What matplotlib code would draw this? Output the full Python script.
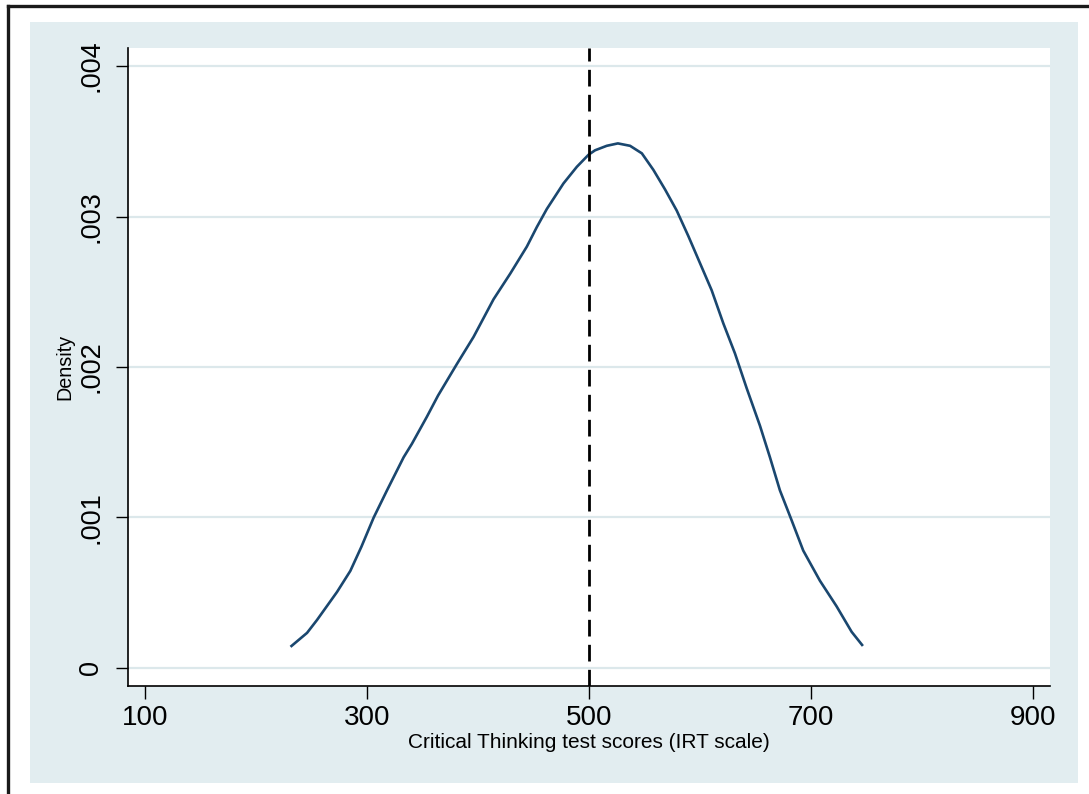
import numpy as np
import matplotlib.pyplot as plt
from matplotlib.lines import Line2D
from matplotlib.patches import Rectangle

plt.rcParams['font.family'] = ['Liberation Sans', 'DejaVu Sans']

# kernel density of the test scores
scores = [232, 246, 255, 273, 285, 295, 306, 318, 333, 340.5, 354, 364, 381,
          396, 414, 429, 444, 453, 462, 477, 489, 499.5, 505.4, 516, 526, 537,
          547.6, 558, 568.5, 579, 589.5, 600, 610.5, 621, 631.5, 642, 654, 663,
          672, 682.6, 693, 708, 723, 736.6, 746]
density = [0.000146, 0.000233, 0.000319, 0.000505, 0.000645, 0.000806, 0.000999,
           0.00118, 0.00140, 0.00149, 0.00167, 0.00181, 0.00202, 0.00220, 0.00245,
           0.00262, 0.00280, 0.00293, 0.00305, 0.00322, 0.00333, 0.00341, 0.00344,
           0.00347, 0.003486, 0.00347, 0.00342, 0.00331, 0.00318, 0.00304, 0.00287,
           0.00269, 0.00251, 0.00229, 0.00209, 0.00186, 0.00161, 0.00140, 0.00118,
           0.00098, 0.00078, 0.00058, 0.00041, 0.00024, 0.000153]
mean_line = 500

x_ticks = [100, 300, 500, 700, 900]
y_ticks = [0, 0.001, 0.002, 0.003, 0.004]
y_labels = ['0', '.001', '.002', '.003', '.004']

bg = '#e2edf0'
navy = '#1a476f'

fig = plt.figure(figsize=(10.89, 7.94), dpi=100)

# graph region + frame lines
fig.add_artist(Rectangle((30 / 1089, 1 - 783 / 794), 1048 / 1089, 761 / 794,
                         transform=fig.transFigure, facecolor=bg, edgecolor='none', zorder=0))
fig.add_artist(Line2D([8 / 1089, 1], [1 - 6 / 794, 1 - 6 / 794], transform=fig.transFigure,
                      color='#1a1a1a', lw=2.4))
fig.add_artist(Line2D([8 / 1089, 8 / 1089], [0, 1 - 6 / 794], transform=fig.transFigure,
                      color='#1a1a1a', lw=2.4))

ax = fig.add_axes([128 / 1089, 1 - 686 / 794, 922 / 1089, 638 / 794])
ax.set_facecolor('white')
ax.set_xlim(84.7, 915.3)
ax.set_ylim(-0.00012, 0.00412)

for yt in y_ticks:
    ax.axhline(yt, color='#dce8eb', lw=1.6, zorder=1)

ax.plot(scores, density, color=navy, lw=1.9, zorder=3)
ax.axvline(mean_line, color='black', lw=2.0, linestyle=(0, (6, 3)), zorder=4)

for side in ['top', 'right']:
    ax.spines[side].set_visible(False)
for side in ['left', 'bottom']:
    ax.spines[side].set_linewidth(1.2)

ax.set_xticks(x_ticks)
ax.set_xticklabels([str(v) for v in x_ticks], fontsize=20)
ax.set_yticks(y_ticks)
ax.set_yticklabels(y_labels, fontsize=19.5, rotation=90, va='center')
ax.tick_params(axis='both', length=9, width=1, direction='out')
ax.tick_params(axis='x', pad=5)
ax.tick_params(axis='y', pad=8)

ax.set_xlabel('Critical Thinking test scores (IRT scale)', fontsize=15, labelpad=1)
ax.set_ylabel('Density', fontsize=14.2, labelpad=3)

fig.savefig('out.png', dpi=100, facecolor='white')
